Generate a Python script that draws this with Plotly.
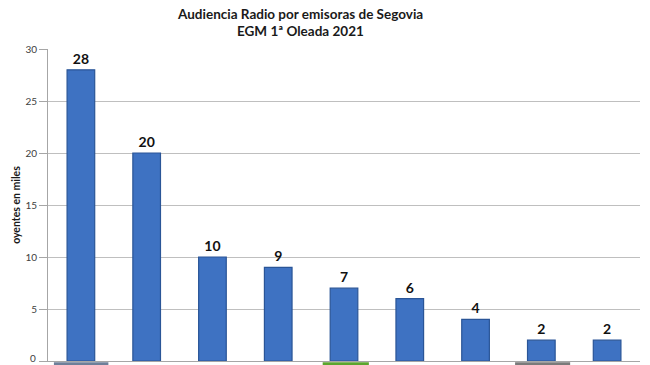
import plotly.graph_objects as go

title_lines = ["Audiencia Radio por emisoras de Segovia", "EGM 1ª Oleada 2021"]
categories = ["E1", "E2", "E3", "E4", "E5", "E6", "E7", "E8", "E9"]
values = [28, 20, 10, 9, 7, 6, 4, 2, 2]
y_ticks = [0, 5, 10, 15, 20, 25, 30]
y_title = "oyentes en miles"

FONT = "Lato, Open Sans, sans-serif"

fig = go.Figure()
fig.add_trace(go.Bar(
    x=categories, y=values,
    width=0.42,
    marker=dict(color="#3E72C2", line=dict(color="#2A5597", width=1.2)),
    text=[str(v) for v in values],
    textposition="outside",
    textfont=dict(family=FONT, size=14, color="#111111", weight="bold"),
    cliponaxis=False,
    hoverinfo="skip",
))

# Logo fragments under the axis (decorative)
logo_marks = [
    (0.010, 0.102, "#6E7F99"),
    (0.464, 0.542, "#5BA52E"),
    (0.789, 0.882, "#7A7A7A"),
]
shapes = []
for x0, x1, c in logo_marks:
    shapes.append(dict(type="rect", xref="paper", yref="paper", x0=x0, x1=x1,
                       y0=-0.013, y1=-0.004, fillcolor=c, line=dict(width=0), layer="above"))

annotations = [
    dict(text="<b>" + title_lines[0] + "</b>", xref="paper", yref="paper",
         x=0.426, y=1.113, xanchor="center", yanchor="middle", showarrow=False,
         font=dict(family=FONT, size=13.5, color="#1a1a1a")),
    dict(text="<b>" + title_lines[1] + "</b>", xref="paper", yref="paper",
         x=0.426, y=1.058, xanchor="center", yanchor="middle", showarrow=False,
         font=dict(family=FONT, size=13.5, color="#1a1a1a")),
    # bottom tick label (would be clipped by the figure edge otherwise)
    dict(text=str(y_ticks[0]), xref="paper", yref="y", x=0, y=y_ticks[0],
         xanchor="right", yanchor="middle", xshift=-10, yshift=3, showarrow=False,
         font=dict(family=FONT, size=10, color="#404040")),
]

fig.update_layout(
    width=650, height=365,
    margin=dict(l=48, r=10, t=49, b=4, autoexpand=False),
    paper_bgcolor="white", plot_bgcolor="white",
    showlegend=False,
    shapes=shapes,
    annotations=annotations,
)
fig.update_xaxes(
    showticklabels=False, showgrid=False, ticks="",
    showline=True, linecolor="#A6A6A6", linewidth=1,
)
fig.update_yaxes(
    range=[0, 30], tickvals=y_ticks,
    showgrid=True, gridcolor="#BFBFBF", gridwidth=1,
    showline=True, linecolor="#A6A6A6", linewidth=1,
    ticks="outside", ticklen=8, tickcolor="#A6A6A6",
    tickfont=dict(family=FONT, size=10, color="#404040"),
    title=dict(text="<b>" + y_title + "</b>", standoff=2,
               font=dict(family=FONT, size=10.5, color="#1a1a1a")),
    zeroline=False,
)

fig.write_html("out.html", config={"displayModeBar": False},
               post_script="document.body.style.margin='0px';")
